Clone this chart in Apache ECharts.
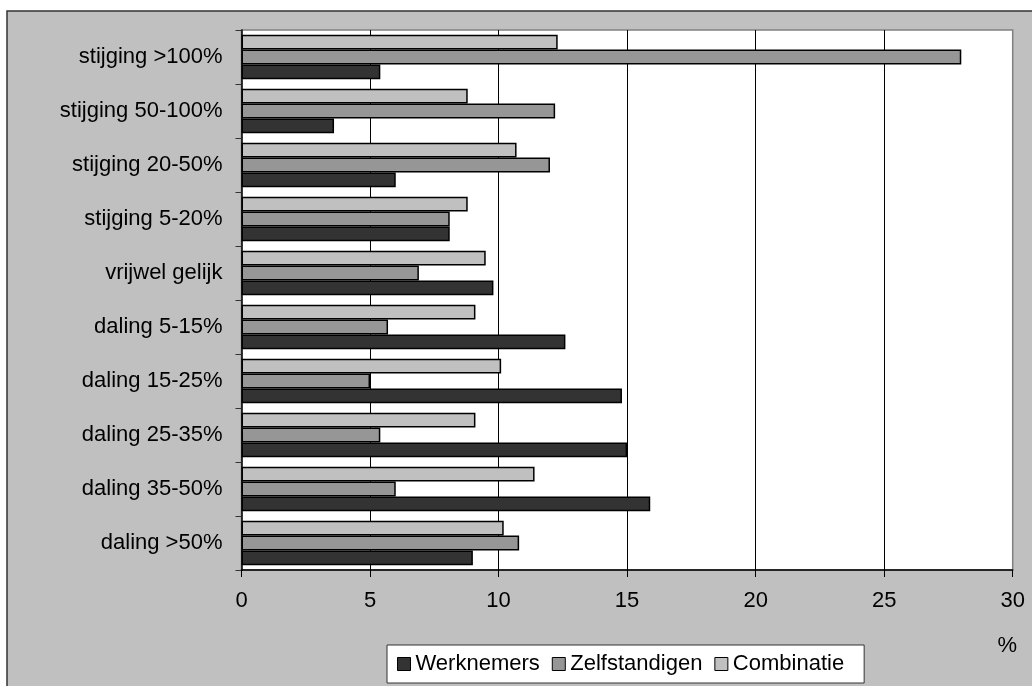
<!DOCTYPE html>
<html>
<head>
<meta charset="utf-8">
<script src="https://cdn.jsdelivr.net/npm/echarts@6/dist/echarts.min.js"></script>
<style>
html,body{margin:0;padding:0;background:#fff;}
#chart{width:1032px;height:686px;}
</style>
</head>
<body>
<div id="chart"></div>
<script>
var categories = ['stijging >100%', 'stijging 50-100%', 'stijging 20-50%', 'stijging 5-20%', 'vrijwel gelijk', 'daling 5-15%', 'daling 15-25%', 'daling 25-35%', 'daling 35-50%', 'daling >50%'];
var werknemers = [5.4, 3.6, 6.0, 8.1, 9.8, 12.6, 14.8, 15.0, 15.9, 9.0];
var zelfstandigen = [28.0, 12.2, 12.0, 8.1, 6.9, 5.7, 5.0, 5.4, 6.0, 10.8];
var combinatie = [12.3, 8.8, 10.7, 8.8, 9.5, 9.1, 10.1, 9.1, 11.4, 10.2];
var xTicks = [0, 5, 10, 15, 20, 25, 30];

var FONT = "'Liberation Sans', Arial, sans-serif";
var chart = echarts.init(document.getElementById('chart'));

function barSeries(name, data, color) {
  return {
    name: name,
    type: 'bar',
    data: data,
    barGap: '0%',
    barCategoryGap: '18%',
    itemStyle: { color: color, borderColor: '#000', borderWidth: 1.5 },
    emphasis: { disabled: true }
  };
}

chart.setOption({
  backgroundColor: '#ffffff',
  animation: false,
  textStyle: { fontFamily: FONT, color: '#000' },
  graphic: [{
    type: 'rect', z: -100, silent: true,
    shape: { x: 7, y: 11, width: 1100, height: 800 },
    style: { fill: '#c0c0c0', stroke: '#333333', lineWidth: 1.5 }
  }],
  title: {
    text: '%', right: 10, top: 630,
    textStyle: { fontFamily: FONT, fontSize: 22, fontWeight: 'normal', color: '#000' }
  },
  grid: {
    left: 241.5, top: 30, right: 19.3, bottom: 116,
    show: true, backgroundColor: '#ffffff', borderColor: '#808080', borderWidth: 1.5
  },
  legend: {
    data: ['Werknemers', 'Zelfstandigen', 'Combinatie'],
    left: 387, top: 645,
    padding: [8, 20, 8, 10],
    backgroundColor: '#ffffff', borderColor: '#333333', borderWidth: 1,
    itemWidth: 13, itemHeight: 13, itemGap: 12,
    icon: 'rect',
    itemStyle: { borderColor: '#000', borderWidth: 1 },
    textStyle: { fontFamily: FONT, fontSize: 22, color: '#000' },
    selectedMode: false
  },
  xAxis: {
    type: 'value', min: xTicks[0], max: xTicks[xTicks.length - 1], interval: 5,
    axisLine: { show: true, lineStyle: { color: '#000', width: 1.5 } },
    axisTick: { show: true, length: 7, lineStyle: { color: '#000' } },
    axisLabel: { fontFamily: FONT, fontSize: 22, color: '#000', margin: 20 },
    splitLine: { show: true, showMinLine: false, showMaxLine: false, lineStyle: { color: '#000', width: 1 } }
  },
  yAxis: {
    type: 'category', data: categories, inverse: true,
    axisLine: { show: true, lineStyle: { color: '#000', width: 1.5 } },
    axisTick: { show: true, length: 6, lineStyle: { color: '#333' } },
    axisLabel: { fontFamily: FONT, fontSize: 22, color: '#000', margin: 19 },
    splitLine: { show: false }
  },
  series: [
    barSeries('Combinatie', combinatie, '#c0c0c0'),
    barSeries('Zelfstandigen', zelfstandigen, '#969696'),
    barSeries('Werknemers', werknemers, '#333333')
  ]
});
</script>
</body>
</html>
